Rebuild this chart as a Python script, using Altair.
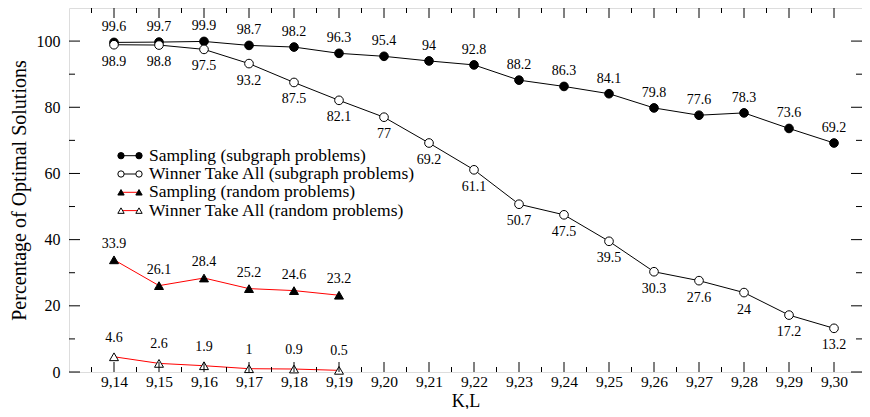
import altair as alt
import pandas as pd

categories = ["9,14", "9,15", "9,16", "9,17", "9,18", "9,19", "9,20", "9,21", "9,22",
              "9,23", "9,24", "9,25", "9,26", "9,27", "9,28", "9,29", "9,30"]
sampling_sub = [99.6, 99.7, 99.9, 98.7, 98.2, 96.3, 95.4, 94, 92.8, 88.2, 86.3, 84.1,
                79.8, 77.6, 78.3, 73.6, 69.2]
wta_sub = [98.9, 98.8, 97.5, 93.2, 87.5, 82.1, 77, 69.2, 61.1, 50.7, 47.5, 39.5,
           30.3, 27.6, 24, 17.2, 13.2]
sampling_rand = [33.9, 26.1, 28.4, 25.2, 24.6, 23.2]
wta_rand = [4.6, 2.6, 1.9, 1, 0.9, 0.5]
legend_labels = ["Sampling (subgraph problems)", "Winner Take All (subgraph problems)",
                 "Sampling (random problems)", "Winner Take All (random problems)"]
y_major = [0, 20, 40, 60, 80, 100]
y_minor = [10, 30, 50, 70, 90]

W, H = 793, 364
FONT = "Liberation Serif"
XDOM = [-1, -1 + W / 45.0]
YDOM = [0, 110]

def series_df(vals):
    return pd.DataFrame({"i": list(range(len(vals))), "v": vals,
                         "lab": [str(v) for v in vals]})

xs = alt.Scale(domain=XDOM, nice=False, zero=False)
ys = alt.Scale(domain=YDOM, nice=False)
label_expr = "[" + ",".join("'%s'" % c for c in categories) + "][datum.value]"

X = lambda: alt.X("i:Q", scale=xs,
                  axis=alt.Axis(values=list(range(len(categories))), labelExpr=label_expr,
                                title="K,L", ticks=False, domain=False, grid=False,
                                labelFont=FONT, labelFontSize=15.5, labelPadding=2,
                                labelColor="black", titleFont=FONT, titleFontSize=18,
                                titleFontWeight="normal", titleColor="black",
                                titleBaseline="alphabetic", titleY=34))
Y = lambda: alt.Y("v:Q", scale=ys,
                  axis=alt.Axis(values=y_major, title="Percentage of Optimal Solutions",
                                ticks=False, domain=False, grid=False,
                                labelFont=FONT, labelFontSize=16, labelPadding=9,
                                labelColor="black", titleFont=FONT, titleFontSize=20,
                                titleFontWeight="normal", titlePadding=7, titleColor="black"))

def line_layer(vals, color):
    return alt.Chart(series_df(vals)).mark_line(color=color, strokeWidth=1).encode(x=X(), y=Y())

def point_layer(vals, shape, filled, size):
    fill = "black" if filled else "white"
    return alt.Chart(series_df(vals)).mark_point(
        shape=shape, filled=True, fill=fill, stroke="black", strokeWidth=1,
        size=size, opacity=1).encode(x=X(), y=Y())

def text_layer(vals, dy):
    return alt.Chart(series_df(vals)).mark_text(
        font=FONT, fontSize=14, color="black", dy=dy, baseline="middle").encode(
        x=X(), y=Y(), text="lab:N")

layers = [
    line_layer(sampling_sub, "black"),
    line_layer(wta_sub, "black"),
    line_layer(sampling_rand, "red"),
    line_layer(wta_rand, "red"),
    point_layer(sampling_sub, "circle", True, 75),
    point_layer(wta_sub, "circle", False, 75),
    point_layer(sampling_rand, "triangle-up", True, 80),
    point_layer(wta_rand, "triangle-up", False, 80),
    text_layer(sampling_sub, -15),
    text_layer(wta_sub, 17),
    text_layer(sampling_rand, -16),
    text_layer(wta_rand, -19),
]

# inward ticks on all four sides
x_major = pd.DataFrame({"i": list(range(len(categories)))})
x_minor = pd.DataFrame({"i": [k + 0.5 for k in range(-1, len(categories) - 1)]})
for df, ln in [(x_major, 10), (x_minor, 5)]:
    layers.append(alt.Chart(df).mark_rule(color="black", strokeWidth=1).encode(
        x=X(), y=alt.value(H), y2=alt.value(H - ln)))
    layers.append(alt.Chart(df).mark_rule(color="black", strokeWidth=1).encode(
        x=X(), y=alt.value(0), y2=alt.value(ln)))
ymaj = pd.DataFrame({"v": y_major})
ymin = pd.DataFrame({"v": y_minor})
for df, ln in [(ymaj, 11), (ymin, 6)]:
    layers.append(alt.Chart(df).mark_rule(color="black", strokeWidth=1).encode(
        y=Y(), x=alt.value(0), x2=alt.value(ln)))
    layers.append(alt.Chart(df).mark_rule(color="black", strokeWidth=1).encode(
        y=Y(), x=alt.value(W), x2=alt.value(W - ln)))

# legend
styles = [("circle", True, "black"), ("circle", False, "black"),
          ("triangle-up", True, "red"), ("triangle-up", False, "red")]
for r, (lab, (shape, filled, lc)) in enumerate(zip(legend_labels, styles)):
    py = 147.7 + r * 18.3
    one = pd.DataFrame({"lab": [lab]})
    layers.append(alt.Chart(one).mark_rule(color=lc, strokeWidth=1).encode(
        x=alt.value(52), x2=alt.value(70), y=alt.value(py)))
    for px in (52, 70):
        layers.append(alt.Chart(one).mark_point(
            shape=shape, filled=True, fill="black" if filled else "white",
            stroke="black", strokeWidth=1, size=40, opacity=1).encode(
            x=alt.value(px), y=alt.value(py)))
    layers.append(alt.Chart(one).mark_text(
        font=FONT, fontSize=17.5, color="black", align="left", baseline="middle").encode(
        x=alt.value(80), y=alt.value(py), text="lab:N"))

chart = alt.layer(*layers).properties(
    width=W, height=H,
    autosize=alt.AutoSizeParams(type="none"),
    padding={"left": 61, "top": 0, "right": 0, "bottom": 37},
).configure_view(stroke="black", strokeWidth=2).configure(background="white")

chart.save("out.html", embed_options={"renderer": "svg", "actions": False})
